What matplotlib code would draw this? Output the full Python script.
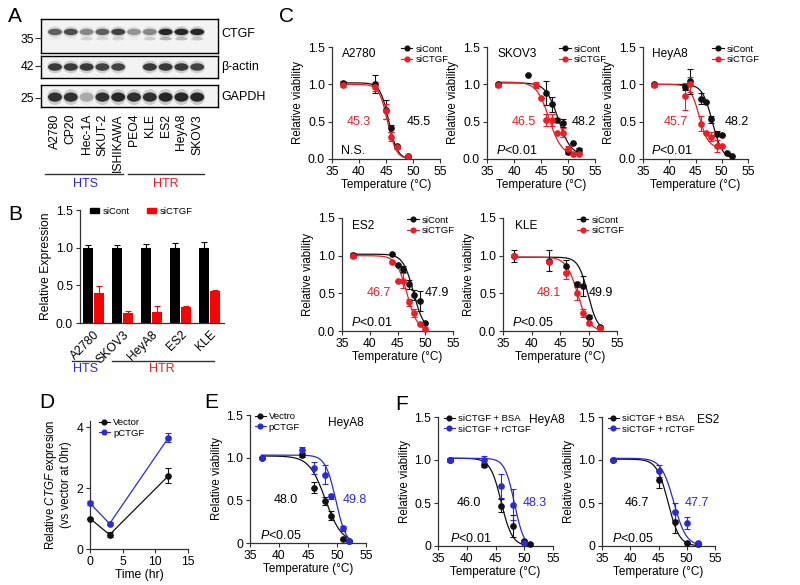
import numpy as np
import matplotlib
matplotlib.use('Agg')
import matplotlib.pyplot as plt
from matplotlib.patches import Ellipse, Patch
from matplotlib.lines import Line2D

plt.rcParams.update({
    'font.family': ['Liberation Sans', 'DejaVu Sans'],
    'mathtext.fontset': 'custom',
    'mathtext.rm': 'Liberation Sans',
    'mathtext.it': 'Liberation Sans:italic',
    'font.size': 9,
    'axes.linewidth': 0.9,
    'axes.edgecolor': '#333333',
    'xtick.color': '#333333',
    'ytick.color': '#333333',
    'xtick.labelcolor': 'black',
    'ytick.labelcolor': 'black',
})

RED = '#ee1c25'
BLUE = '#2a2ad8'
BLK = '#111111'

# ---------------- DATA ----------------
# Panel A (western blot band intensities, 0..1)
lanes = ['A2780', 'CP20', 'Hec-1A', 'SKUT-2', 'ISHIKAWA', 'PEO4', 'KLE', 'ES2', 'HeyA8', 'SKOV3']
ctgf_band = [0.65, 0.75, 0.45, 0.65, 0.80, 0.40, 0.45, 0.95, 0.95, 0.95]
ctgf_lower = [0.05, 0.05, 0.25, 0.20, 0.25, 0.05, 0.30, 0.50, 0.45, 0.35]
actin_band = [0.85, 0.85, 0.85, 0.80, 0.80, 0.00, 0.85, 0.85, 0.85, 0.80]
gapdh_band = [0.90, 0.90, 0.30, 0.90, 0.95, 0.90, 0.90, 0.95, 0.95, 0.95]
blot_names = ['CTGF', 'β-actin', 'GAPDH']
blot_markers = ['35', '42', '25']

# Panel B
b_cells = ['A2780', 'SKOV3', 'HeyA8', 'ES2', 'KLE']
b_cont = [1.0, 1.0, 1.0, 1.0, 1.0]
b_cont_err = [0.04, 0.04, 0.05, 0.06, 0.07]
b_si = [0.40, 0.13, 0.14, 0.21, 0.42]
b_si_err = [0.09, 0.03, 0.09, 0.02, 0.02]

# Panel C: (temps, values, errors) for siCont and siCTGF, plus fit params (T50, slope, top, bottom)
c_names = ['A2780', 'SKOV3', 'HeyA8', 'ES2', 'KLE']
c_cont_t = [[37, 43, 45, 46, 47, 49],
            [37, 42.5, 46, 47, 48, 49, 50, 51, 52],
            [37, 43, 44, 46, 47, 48, 49, 50, 51, 52],
            [37, 44, 45, 46, 47, 48, 49, 50],
            [37, 43, 46, 48, 49, 50, 52]]
c_cont_v = [[1.02, 1.01, 0.66, 0.41, 0.17, 0.04],
            [1.00, 1.12, 0.88, 0.73, 0.52, 0.48, 0.10, 0.21, 0.12],
            [1.00, 0.96, 1.04, 0.81, 0.76, 0.53, 0.34, 0.32, 0.08, 0.04],
            [1.01, 1.02, 0.88, 0.82, 0.62, 0.48, 0.40, 0.11],
            [1.00, 0.93, 0.86, 0.62, 0.60, 0.19, 0.05]]
c_cont_e = [[0.03, 0.12, 0.13, 0.05, 0.02, 0.02],
            [0.02, 0.00, 0.16, 0.10, 0.03, 0.05, 0.03, 0.00, 0.03],
            [0.02, 0.03, 0.17, 0.08, 0.00, 0.05, 0.03, 0.00, 0.00, 0.00],
            [0.03, 0.00, 0.00, 0.04, 0.06, 0.07, 0.13, 0.00],
            [0.08, 0.14, 0.08, 0.03, 0.13, 0.02, 0.02]]
c_si_t = [[37, 43, 45, 46, 47, 49],
          [37, 44, 45, 46, 47, 48, 49, 50, 51, 52],
          [37, 43, 44, 46, 47, 48, 49, 50],
          [37, 44, 45, 46, 47, 48, 49, 50],
          [37, 43, 46, 48, 49, 50, 52]]
c_si_v = [[0.99, 0.97, 0.64, 0.30, 0.16, 0.04],
          [0.99, 0.99, 0.82, 0.52, 0.52, 0.35, 0.35, 0.14, 0.07, 0.07],
          [0.99, 0.84, 1.00, 0.47, 0.35, 0.30, 0.17, 0.18],
          [0.99, 0.91, 0.66, 0.67, 0.38, 0.24, 0.09, 0.03],
          [1.00, 0.92, 0.77, 0.50, 0.24, 0.10, 0.04]]
c_si_e = [[0.02, 0.06, 0.10, 0.06, 0.02, 0.01],
          [0.02, 0.04, 0.00, 0.08, 0.08, 0.00, 0.06, 0.03, 0.00, 0.00],
          [0.02, 0.18, 0.10, 0.10, 0.00, 0.06, 0.08, 0.00],
          [0.02, 0.00, 0.00, 0.10, 0.05, 0.05, 0.00, 0.02],
          [0.02, 0.02, 0.08, 0.09, 0.05, 0.02, 0.01]]
c_cont_fit = [(45.5, 0.8, 1.02, 0.0), (48.2, 1.15, 1.02, 0.05), (48.2, 0.95, 1.0, 0.0),
              (47.9, 0.95, 1.02, 0.0), (49.9, 0.85, 0.98, 0.0)]
c_si_fit = [(45.3, 0.8, 1.0, 0.0), (46.5, 1.15, 1.03, 0.05), (45.7, 0.85, 1.0, 0.15),
            (46.7, 0.95, 1.0, 0.0), (48.1, 1.0, 0.98, 0.0)]
c_t50_si = ['45.3', '46.5', '45.7', '46.7', '48.1']
c_t50_cont = ['45.5', '48.2', '48.2', '47.9', '49.9']
c_p = ['N.S.', r'$\mathit{P}$<0.01', r'$\mathit{P}$<0.01', r'$\mathit{P}$<0.01', r'$\mathit{P}$<0.05']

# Panel D
d_time = [0, 3, 12]
d_vec = [1.0, 0.47, 2.40]
d_vec_err = [0.03, 0.08, 0.25]
d_pc = [1.50, 0.83, 3.65]
d_pc_err = [0.06, 0.04, 0.15]

# Panel E
e_t = [37, 44, 46, 48, 49, 51, 52]
e_vec = [1.00, 1.03, 0.65, 0.49, 0.32, 0.05, 0.02]
e_vec_err = [0.01, 0.02, 0.06, 0.05, 0.05, 0.01, 0.01]
e_pc = [1.00, 1.09, 0.88, 0.80, 0.55, 0.17, 0.02]
e_pc_err = [0.01, 0.03, 0.07, 0.11, 0.03, 0.03, 0.01]
e_fit_vec = (48.0, 1.4, 1.02, 0.0)
e_fit_pc = (49.8, 0.9, 1.03, -0.03)

# Panel F
f1_bsa_t = [37, 43, 46, 48, 50, 51]
f1_bsa = [1.00, 0.94, 0.47, 0.23, 0.06, 0.02]
f1_bsa_err = [0.02, 0.02, 0.08, 0.13, 0.01, 0.01]
f1_r_t = [37, 43, 46, 48, 50]
f1_r = [1.00, 1.00, 0.70, 0.48, 0.03]
f1_r_err = [0.01, 0.05, 0.14, 0.18, 0.01]
f1_fit_bsa = (46.0, 0.95, 1.02, 0.0)
f1_fit_r = (48.3, 0.85, 1.02, -0.03)
f2_t = [37, 45, 48, 50, 52]
f2_bsa = [1.00, 0.77, 0.28, 0.04, 0.02]
f2_bsa_err = [0.01, 0.10, 0.13, 0.01, 0.01]
f2_r = [1.00, 0.87, 0.40, 0.27, 0.04]
f2_r_err = [0.01, 0.07, 0.10, 0.07, 0.01]
f2_fit_bsa = (46.7, 1.0, 1.01, 0.0)
f2_fit_r = (47.7, 1.1, 1.02, 0.0)

# ---------------- FIGURE ----------------
W, H = 800, 585
fig = plt.figure(figsize=(8, 5.85), dpi=100)


def axpx(l, t, r, b):
    return fig.add_axes([l / W, 1 - b / H, (r - l) / W, (b - t) / H])


ov = axpx(0, 0, 800, 585)
ov.set_xlim(0, 800)
ov.set_ylim(585, 0)
ov.axis('off')

for lab, (x, y) in zip('ABCDEF', [(15, 17), (15, 215), (286, 17), (47, 402), (211, 403), (402, 404)]):
    ov.text(x, y, lab, fontsize=15, ha='center', va='center')

TICK = 8.7
XL = 8.5
YL = 8.3


def prism(ax):
    for s in ['top', 'right']:
        ax.spines[s].set_visible(False)
    ax.tick_params(direction='out', length=3, width=0.8, pad=2, labelsize=TICK)


# ---- Panel A: blots ----
lane_x = np.arange(len(lanes))
blot_boxes = [(19, 53), (56, 78), (85, 107)]
band_y = [0.62, 0.5, 0.45]
band_h = [0.19, 0.34, 0.42]
marker_y = [0.44, 0.55, 0.41]
band_sets = [ctgf_band, actin_band, gapdh_band]
for k, (t, b) in enumerate(blot_boxes):
    ax = axpx(41, t, 218, b)
    ax.set_xlim(-0.886, 10.316)
    ax.set_ylim(0, 1)
    ax.set_facecolor('#f3f3f3')
    for s in ax.spines.values():
        s.set_color('black')
        s.set_linewidth(1.0)
    for i, v in zip(lane_x, band_sets[k]):
        if v > 0:
            ax.add_patch(Ellipse((i, band_y[k]), 1.0, band_h[k] * 1.7, facecolor='k', alpha=v * 0.18, lw=0))
            ax.add_patch(Ellipse((i, band_y[k]), 0.88, band_h[k], facecolor='k', alpha=v * 0.85, lw=0))
    if k == 0:
        for i, v in zip(lane_x, ctgf_lower):
            ax.add_patch(Ellipse((i, 0.42), 0.8, 0.1, facecolor='k', alpha=v * 0.5, lw=0))
    ax.set_yticks([marker_y[k]])
    ax.set_yticklabels([blot_markers[k]])
    ax.tick_params(axis='y', direction='out', length=4, width=0.8, pad=1, labelsize=TICK, color='#333333')
    ax.text(1.02, band_y[k] if k else 0.55, blot_names[k], transform=ax.transAxes, ha='left', va='center', fontsize=9)
    if k == 2:
        ax.set_xticks(lane_x)
        ax.set_xticklabels(lanes, rotation=90, fontsize=TICK, va='top', ha='center')
        ax.tick_params(axis='x', length=0, pad=5)
    else:
        ax.set_xticks([])

ov.plot([45, 123], [174, 174], color='#333333', lw=1)
ov.plot([128, 204], [174, 174], color='#333333', lw=1)
ov.text(85, 184, 'HTS', color=BLUE, ha='center', va='center', fontsize=9)
ov.text(166, 184, 'HTR', color=RED, ha='center', va='center', fontsize=9)

# ---- Panel B ----
axB = axpx(80, 210, 224, 323)
prism(axB)
xb = np.arange(len(b_cells))
zeros = np.zeros(len(b_cells))
axB.bar(xb - 0.19, b_cont, 0.33, color='black', yerr=[zeros, b_cont_err],
        error_kw=dict(ecolor='black', capsize=2, elinewidth=0.8, capthick=0.8))
axB.bar(xb + 0.19, b_si, 0.33, color='#ff0000', yerr=[zeros, b_si_err],
        error_kw=dict(ecolor='#ff0000', capsize=2, elinewidth=0.8, capthick=0.8))
axB.set_xlim(-0.47, 4.5)
axB.set_ylim(0, 1.5)
axB.set_yticks([0, 0.5, 1.0, 1.5])
axB.set_yticklabels(['0.0', '0.5', '1.0', '1.5'])
axB.set_xticks(xb)
axB.set_xticklabels(b_cells, rotation=45, ha='right', rotation_mode='anchor')
axB.tick_params(axis='x', length=0, pad=4)
axB.set_ylabel('Relative Expression', fontsize=8.7, labelpad=3)
axB.legend(handles=[Patch(color='black', label='siCont'), Patch(color='#ff0000', label='siCTGF')],
           ncol=2, loc='upper left', bbox_to_anchor=(0.04, 1.06), fontsize=6.8, frameon=False,
           handlelength=1.0, handleheight=0.45, handletextpad=0.4, columnspacing=1.8, borderaxespad=0)
ov.plot([72, 99], [361, 361], color='#333333', lw=1)
ov.plot([112, 214], [361, 361], color='#333333', lw=1)
ov.text(85, 369, 'HTS', color=BLUE, ha='center', va='center', fontsize=9)
ov.text(162, 369, 'HTR', color=RED, ha='center', va='center', fontsize=9)


def logistic(xx, p):
    t50, s, top, bot = p
    return bot + (top - bot) / (1 + np.exp((xx - t50) / s))


def vseries(ax, t, v, e, color, fit):
    ax.errorbar(t, v, yerr=e, fmt='o', color=color, ms=3.8, capsize=2, elinewidth=0.8,
                capthick=0.8, clip_on=False, zorder=3)
    xx = np.linspace(min(t), max(t), 200)
    ax.plot(xx, logistic(xx, fit), color=color, lw=0.9, zorder=2)


def vaxes(ax, ylabels):
    prism(ax)
    ax.set_xlim(35, 55)
    ax.set_ylim(0, 1.5)
    ax.set_xticks([35, 40, 45, 50, 55])
    ax.set_yticks([0, 0.5, 1.0, 1.5])
    ax.set_yticklabels(ylabels)
    ax.set_xlabel('Temperature (°C)', fontsize=XL, labelpad=1)
    ax.set_ylabel('Relative viability', fontsize=YL, labelpad=2.5)


def vlegend(ax, labels, colors, x0):
    hs = [Line2D([], [], color=c, marker='o', ms=3.4, lw=0.8) for c in colors]
    ax.legend(hs, labels, loc='upper left', bbox_to_anchor=(x0, 1.02), fontsize=6.8, frameon=False,
              handlelength=1.2, handletextpad=0.3, labelspacing=0.12, borderaxespad=0, borderpad=0)


# ---- Panel C ----
c_boxes = [(332, 47, 440, 159), (487, 47, 595, 159), (643, 47, 748, 159),
           (342, 218, 453, 331), (503, 218, 617, 331)]
c_leg_x = [0.64, 0.67, 0.66, 0.59, 0.65]
c_name_x = [36.9, 37.0, 36.7, 36.8, 37.1]
c_si_lx = [40.0, 41.9, 41.3, 41.7, 43.1]
c_cont_lx = [51.1, 53.0, 52.9, 52.1, 52.2]
for k in range(5):
    ax = axpx(*c_boxes[k])
    vaxes(ax, ['0.0', '0.5', '1.0', '1.5'])
    vseries(ax, c_cont_t[k], c_cont_v[k], c_cont_e[k], BLK, c_cont_fit[k])
    vseries(ax, c_si_t[k], c_si_v[k], c_si_e[k], RED, c_si_fit[k])
    ax.text(c_name_x[k], 1.40, c_names[k], ha='left', va='center', fontsize=8.6)
    ax.text(c_si_lx[k], 0.5, c_t50_si[k], color=RED, ha='center', va='center', fontsize=9)
    ax.text(c_cont_lx[k], 0.5, c_t50_cont[k], color='black', ha='center', va='center', fontsize=9)
    ax.text(36.6, 0.11, c_p[k], ha='left', va='center', fontsize=9)
    vlegend(ax, ['siCont', 'siCTGF'], [BLK, RED], c_leg_x[k])

# ---- Panel D ----
axD = axpx(90, 421, 188, 549)
prism(axD)
axD.errorbar(d_time, d_vec, yerr=d_vec_err, fmt='-o', color=BLK, ms=3.8, lw=0.9, capsize=2,
             elinewidth=0.8, capthick=0.8, clip_on=False, zorder=3, label='Vector')
axD.errorbar(d_time, d_pc, yerr=d_pc_err, fmt='-o', color=BLUE, ms=3.8, lw=0.9, capsize=2,
             elinewidth=0.8, capthick=0.8, clip_on=False, zorder=3, label='pCTGF')
axD.set_xlim(0, 15)
axD.set_ylim(0, 4.2)
axD.set_xticks([0, 5, 10, 15])
axD.set_yticks([0, 2, 4])
axD.set_xlabel('Time (hr)', fontsize=8.7, labelpad=1)
axD.set_ylabel('Relative $\\mathit{CTGF}$ expresion\n(vs vector at 0hr)', fontsize=8.3, labelpad=3,
               linespacing=1.1)
vlegend(axD, ['Vector', 'pCTGF'], [BLK, BLUE], 0.09)

# ---- Panel E ----
axE = axpx(250, 415, 366, 543)
vaxes(axE, ['0', '0.5', '1.0', '1.5'])
vseries(axE, e_t, e_vec, e_vec_err, BLK, e_fit_vec)
vseries(axE, e_t, e_pc, e_pc_err, BLUE, e_fit_pc)
axE.text(41.2, 0.5, '48.0', ha='center', va='center', fontsize=9)
axE.text(53.1, 0.5, '49.8', color=BLUE, ha='center', va='center', fontsize=9)
axE.text(36.7, 0.09, r'$\mathit{P}$<0.05', ha='left', va='center', fontsize=9)
axE.text(48.4, 1.41, 'HeyA8', ha='left', va='center', fontsize=8.6)
vlegend(axE, ['Vectro', 'pCTGF'], [BLK, BLUE], 0.04)

# ---- Panel F ----
axF1 = axpx(438, 417, 553, 546)
vaxes(axF1, ['0', '0.5', '1.0', '1.5'])
vseries(axF1, f1_bsa_t, f1_bsa, f1_bsa_err, BLK, f1_fit_bsa)
vseries(axF1, f1_r_t, f1_r, f1_r_err, BLUE, f1_fit_r)
axF1.text(40.4, 0.5, '46.0', ha='center', va='center', fontsize=9)
axF1.text(51.8, 0.5, '48.3', color=BLUE, ha='center', va='center', fontsize=9)
axF1.text(37.0, 0.09, r'$\mathit{P}$<0.01', ha='left', va='center', fontsize=9)
axF1.text(50.8, 1.47, 'HeyA8', ha='left', va='center', fontsize=8.6)
vlegend(axF1, ['siCTGF + BSA', 'siCTGF + rCTGF'], [BLK, BLUE], 0.05)

axF2 = axpx(602, 417, 715, 546)
vaxes(axF2, ['0', '0.5', '1.0', '1.5'])
vseries(axF2, f2_t, f2_bsa, f2_bsa_err, BLK, f2_fit_bsa)
vseries(axF2, f2_t, f2_r, f2_r_err, BLUE, f2_fit_r)
axF2.text(41.2, 0.5, '46.7', ha='center', va='center', fontsize=9)
axF2.text(51.8, 0.5, '47.7', color=BLUE, ha='center', va='center', fontsize=9)
axF2.text(36.8, 0.09, r'$\mathit{P}$<0.05', ha='left', va='center', fontsize=9)
axF2.text(51.8, 1.47, 'ES2', ha='left', va='center', fontsize=8.6)
vlegend(axF2, ['siCTGF + BSA', 'siCTGF + rCTGF'], [BLK, BLUE], 0.05)

fig.savefig('out.png', dpi=100)
